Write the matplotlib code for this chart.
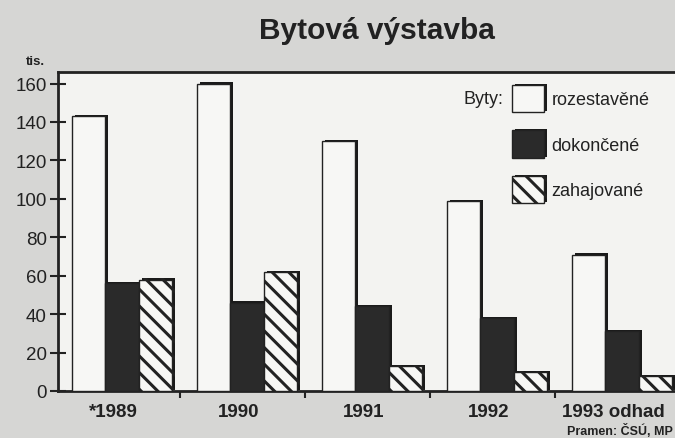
import matplotlib
matplotlib.use("Agg")
import matplotlib.pyplot as plt
import matplotlib.patheffects as pe
from matplotlib.patches import Patch
import numpy as np

plt.rcParams['font.family'] = ['Liberation Sans', 'DejaVu Sans']
plt.rcParams['hatch.linewidth'] = 2.2

years = ["*1989", "1990", "1991", "1992", "1993 odhad"]
rozestavene = [143, 160, 130, 99, 71]
dokoncene = [56, 46, 44, 38, 31]
zahajovane = [58, 62, 13, 10, 8]
yticks = [0, 20, 40, 60, 80, 100, 120, 140, 160]

bg = '#d6d6d4'
fg = '#222222'

fig = plt.figure(figsize=(6.75, 4.39), dpi=100, facecolor=bg)
ax = fig.add_axes([58/675, 1-392/439, 1-58/675, (392-73)/439])
ax.set_facecolor('#f3f3f1')

x = np.arange(len(years))
w = 0.267
shadow = [pe.SimplePatchShadow(offset=(2.2, 0.8), shadow_rgbFace='#1a1a1a', alpha=1.0), pe.Normal()]

b1 = ax.bar(x - w, rozestavene, w, color='#f7f7f5', edgecolor=fg, linewidth=1.0, zorder=3)
b2 = ax.bar(x, dokoncene, w, color='#2a2a2a', edgecolor=fg, linewidth=1.0, zorder=3)
b3 = ax.bar(x + w, zahajovane, w, color='#f7f7f5', edgecolor=fg, linewidth=1.0,
            hatch='\\\\', zorder=3)
for bars in (b1, b2, b3):
    for p in bars:
        p.set_path_effects(shadow)

ax.set_xlim(-0.512, 4.424)
ax.set_ylim(0, 166)

ax.set_yticks(yticks)
ax.set_yticklabels([str(v) for v in yticks], fontsize=13.5, color=fg)
ax.tick_params(axis='y', direction='inout', length=12, width=1.5, color=fg, pad=2)

ax.set_xticks(x - 0.07)
ax.set_xticklabels(years, fontsize=13.5, fontweight='bold', color=fg)
ax.tick_params(axis='x', which='major', length=0, pad=9)
ax.set_xticks(x[:-1] + 0.465, minor=True)
ax.tick_params(axis='x', which='minor', direction='out', length=5, width=1.5, color=fg)

for s in ('left', 'bottom', 'top'):
    ax.spines[s].set_linewidth(2)
    ax.spines[s].set_color(fg)
ax.spines['right'].set_visible(False)

handles = [Patch(facecolor='#f7f7f5', edgecolor=fg, linewidth=1.0, path_effects=shadow),
           Patch(facecolor='#2a2a2a', edgecolor=fg, linewidth=1.0, path_effects=shadow),
           Patch(facecolor='#f7f7f5', edgecolor=fg, linewidth=1.0, hatch='\\\\', path_effects=shadow)]
labels = ["rozestavěné", "dokončené", "zahajované"]
leg = fig.legend(handles, labels, loc='upper left', bbox_to_anchor=(512/675, 1-86/439),
                 bbox_transform=fig.transFigure, frameon=False, fontsize=13,
                 handlelength=1.75, handleheight=1.95, labelspacing=1.0,
                 handletextpad=0.45, borderpad=0, borderaxespad=0)
for t in leg.get_texts():
    t.set_color(fg)

fig.text(503/675, 1-100/439, "Byty:", ha='right', va='center', fontsize=13, color=fg)
fig.text(377/675, 1-31/439, "Bytová výstavba", ha='center', va='center',
         fontsize=21.5, fontweight='bold', color=fg)
fig.text(26/675, 1-62/439, "tis.", ha='left', va='center', fontsize=9.5,
         fontweight='bold', color=fg)
fig.text(0.997, 1-431/439, "Pramen: ČSÚ, MP", ha='right', va='center', fontsize=9,
         fontweight='bold', color=fg)

fig.savefig("out.png", dpi=100, facecolor=bg)
